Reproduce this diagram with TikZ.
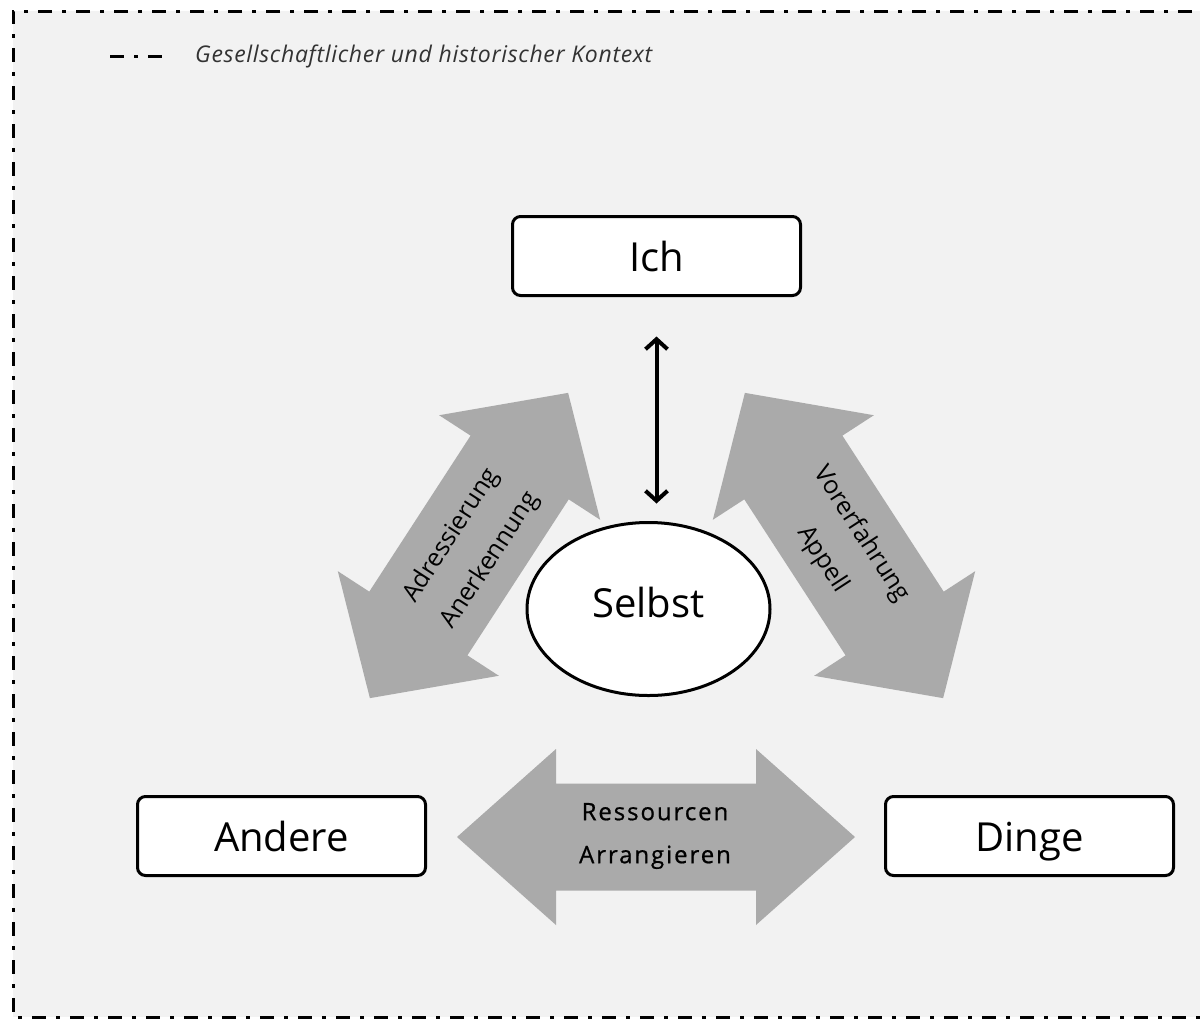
\documentclass[tikz,border=0pt]{standalone}
\usepackage{fontspec}
\setmainfont{Open Sans}
\usetikzlibrary{arrows.meta,shapes.geometric}
\definecolor{bgfill}{HTML}{F2F2F2}
\definecolor{arrowgray}{RGB}{170,170,170}
% cx, cy, angle, total length, shaft half width, head half width, head length
\newcommand\bigdarrow[7]{%
  \fill[arrowgray,shift={(#1,#2)},rotate=#3]
    ({-#4/2},0) -- ({-#4/2+#7},#6) -- ({-#4/2+#7},#5) -- ({#4/2-#7},#5)
    -- ({#4/2-#7},#6) -- ({#4/2},0) -- ({#4/2-#7},-#6) -- ({#4/2-#7},-#5)
    -- ({-#4/2+#7},-#5) -- ({-#4/2+#7},-#6) -- cycle;}
\tikzset{
  ctxline/.style={line width=3pt, dash pattern=on 14pt off 10pt on 4pt off 10pt},
  termbox/.style={draw, line width=3pt, rounded corners=8pt, fill=white,
    minimum width=288pt, minimum height=79pt, inner sep=0pt,
    text height=30pt, text depth=0pt,
    font=\fontsize{40}{48}\selectfont},
  selfell/.style={draw, ellipse, line width=3pt, fill=white,
    minimum width=243pt, minimum height=173pt, inner sep=0pt,
    font=\fontsize{40}{48}\selectfont, text depth=14pt},
  arrowtext/.style={font=\fontsize{25}{46}\selectfont, align=center, inner sep=0pt},
  restext/.style={font=\fontsize{24}{43}\selectfont\addfontfeatures{LetterSpace=8,FakeBold=0.8},
    align=center, inner sep=0pt},
  legendtext/.style={font=\fontsize{23}{27}\selectfont\itshape\addfontfeatures{LetterSpace=3},
    text=black!80, anchor=west, inner sep=0pt},
  barb/.tip={Straight Barb[length=10pt,width=22pt]}
}
\begin{document}
\begin{tikzpicture}[x=1pt,y=1pt]
  \useasboundingbox (0,0) rectangle (1200,-1021);
  \clip (0,0) rectangle (1200,-1021);
  % context frame
  \fill[bgfill] (13,-11) rectangle (1230,-1017);
  \draw[ctxline] (1230,-11) -- (13,-11) -- (13,-1017) -- (1230,-1017);
  % legend
  \coordinate (legA) at (110,-56);
  \coordinate (legB) at (163,-56);
  \draw[ctxline] (legA) -- (legB);
  \node[legendtext] (legend) at (195,-56) {Gesellschaftlicher und historischer Kontext};
  % big grey double arrows
  \bigdarrow{469}{-545.5}{57}{364}{58.5}{96}{89}
  \bigdarrow{844}{-545.5}{-57}{364}{58.5}{96}{89}
  \bigdarrow{656}{-837}{0}{398}{53.5}{88}{99}
  % arrow texts
  \node[arrowtext, rotate=57] (adr) at (471,-548) {Adressierung\\Anerkennung};
  \node[arrowtext, rotate=-57] (vor) at (842,-547) {Vorerfahrung\\Appell};
  \node[restext] (res) at (655,-836) {Ressourcen\\Arrangieren};
  % nodes
  \node[termbox] (ich) at (656.5,-256) {Ich};
  \node[termbox] (andere) at (281.5,-836) {Andere};
  \node[termbox] (dinge) at (1029.5,-836) {Dinge};
  \node[selfell] (selbst) at (648.5,-609) {Selbst};
  % vertical connector
  \draw[line width=4pt, barb-barb, shorten <=39.5pt, shorten >=17.5pt]
    (ich.south) -- (ich.south |- selbst.north);
\end{tikzpicture}
\end{document}
